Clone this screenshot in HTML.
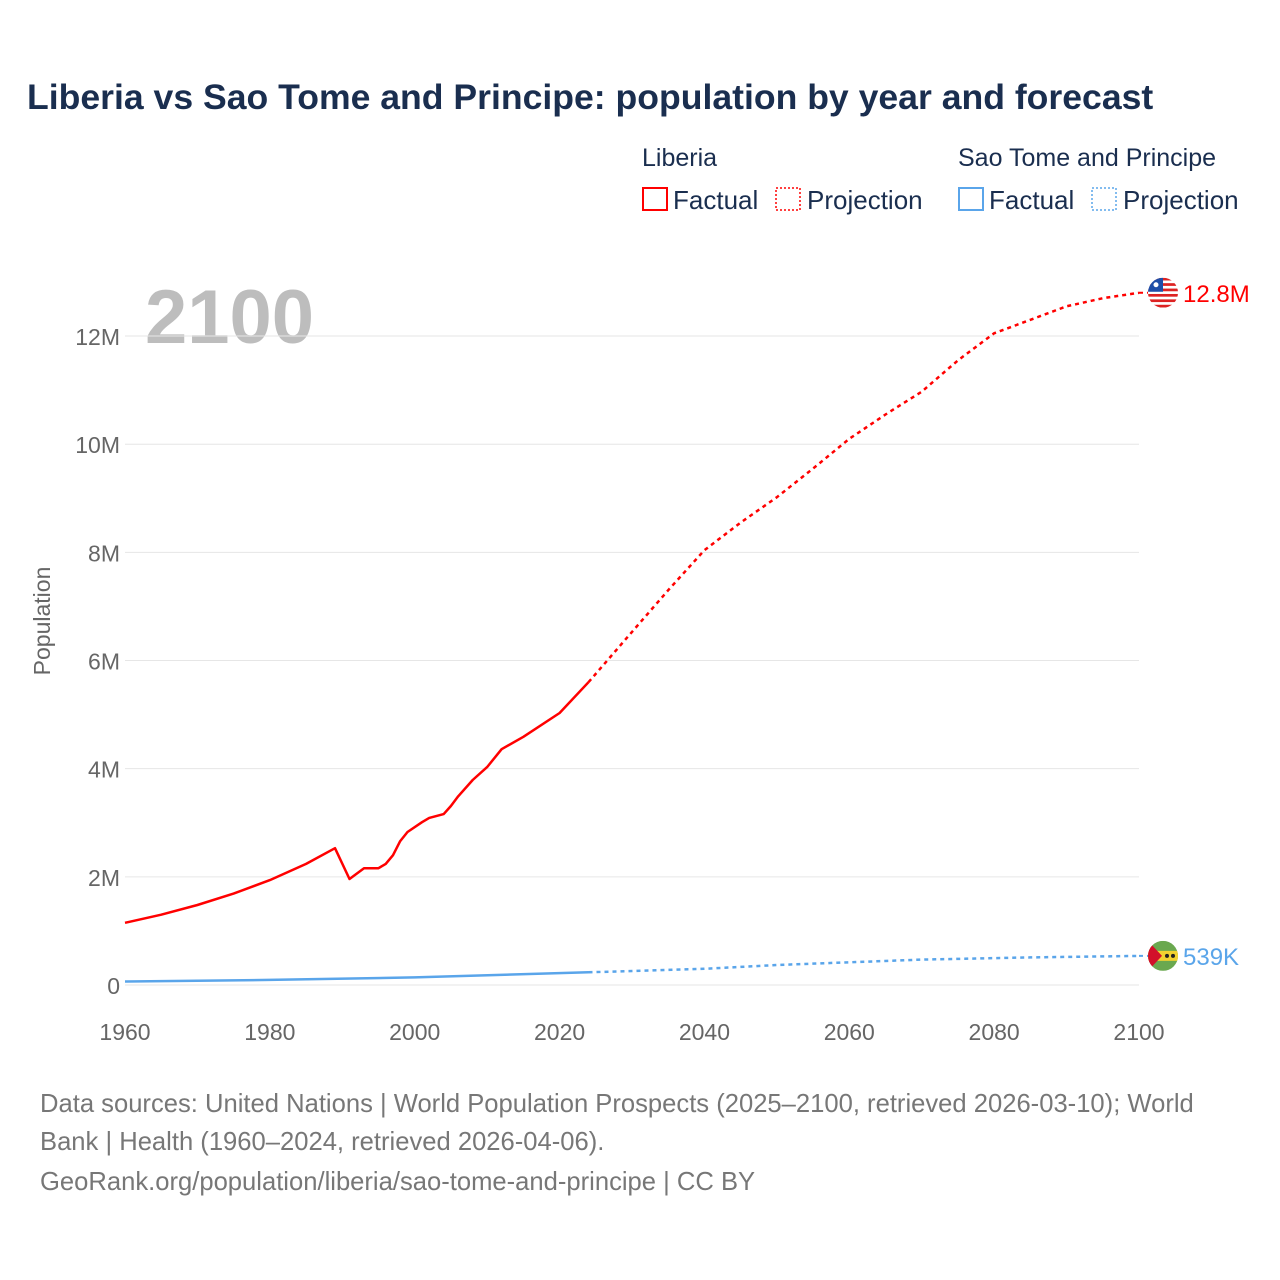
<!DOCTYPE html>
<html><head><meta charset="utf-8"><style>
body{margin:0;background:#fff;font-family:"Liberation Sans",sans-serif}
#wrap{position:relative;width:1280px;height:1280px;overflow:hidden}
</style></head><body>
<div id="wrap">
<svg id="svg" width="1280" height="1280"></svg>
</div>
<script>
const years=[1960,1965,1970,1975,1980,1985,1989,1991,1993,1995,1996,1997,1998,1999,2001,2002,2004,2005,2006,2008,2010,2012,2015,2020,2024];
const liberiaFactual=[1.15,1.30,1.48,1.69,1.94,2.24,2.53,1.96,2.16,2.16,2.24,2.40,2.66,2.83,3.01,3.09,3.16,3.31,3.49,3.79,4.03,4.36,4.59,5.03,5.60];
const projYears=[2024,2030,2035,2040,2045,2050,2055,2060,2065,2070,2075,2080,2085,2090,2095,2100];
const liberiaProj=[5.60,6.53,7.3,8.04,8.55,9.02,9.55,10.1,10.55,10.97,11.55,12.05,12.3,12.55,12.7,12.8];
const stpYears=[1960,1980,2000,2024];
const stpFactual=[0.064,0.095,0.14,0.235];
const stpProj=[0.235,0.30,0.37,0.42,0.47,0.51,0.539];
const stpProjYears=[2024,2040,2050,2060,2070,2085,2100];
const yTicks=[0,2,4,6,8,10,12];
const yTickLabels=["0","2M","4M","6M","8M","10M","12M"];
const xTicks=[1960,1980,2000,2020,2040,2060,2080,2100];

const NS="http://www.w3.org/2000/svg";
const svg=document.getElementById('svg');
const X=y=>125+(y-1960)*(1014/140);
const Y=v=>985-v*54.08;
function el(tag,attrs,parent){const e=document.createElementNS(NS,tag);for(const k in attrs)e.setAttribute(k,attrs[k]);(parent||svg).appendChild(e);return e;}
function txt(s,attrs){const t=el('text',attrs);t.textContent=s;return t;}

let t=txt("Liberia vs Sao Tome and Principe: population by year and forecast",{x:27,y:109,"font-size":35.6,"font-weight":"bold",fill:"#1a2e4f"});


const lg=[["Liberia",642,"#f00"],["Sao Tome and Principe",958,"#5aa5ea"]];
lg.forEach(([n,x,c])=>{
 let a=txt(n,{x:x,y:166,"font-size":25,fill:"#1a2e4f"});
 let r=el('rect',{x:x+1,y:188,width:24,height:22,fill:"none",stroke:c,"stroke-width":2});
 let b=txt("Factual",{x:x+31,y:209,"font-size":26,fill:"#1a2e4f"});
 let r2=el('rect',{x:x+134,y:188,width:24,height:22,fill:"none",stroke:c,"stroke-width":1.5,"stroke-dasharray":"2,2"});
 let d=txt("Projection",{x:x+165,y:209,"font-size":26,fill:"#1a2e4f"});
});

let yr=txt("2100",{x:145,y:343,"font-size":76,"font-weight":"bold",fill:"#bdbdbd"});


yTicks.forEach((v,i)=>{
 let g=el('line',{x1:125,x2:1139,y1:Y(v),y2:Y(v),stroke:"#e6e6e6","stroke-width":1});
 
 let l=txt(yTickLabels[i],{x:120,y:Y(v)+9,"font-size":23,fill:"#666","text-anchor":"end"});
 
});
xTicks.forEach(v=>{
 let l=txt(String(v),{x:X(v),y:1040,"font-size":23,fill:"#666","text-anchor":"middle"});
 
});
let yt=txt("Population",{x:50,y:621,"font-size":23,fill:"#666","text-anchor":"middle",transform:"rotate(-90 50 621)"});


function path(xs,vs,c,dash,name){
 const d=xs.map((x,i)=>(i?'L':'M')+X(x).toFixed(1)+','+Y(vs[i]).toFixed(1)).join('');
 const p=el('path',{d:d,fill:"none",stroke:c,"stroke-width":2.5,"stroke-linejoin":"round"});
 if(dash)p.setAttribute('stroke-dasharray',dash);
 
}
path(years,liberiaFactual,"#f00",null,'liberia-factual-line');
path(projYears,liberiaProj,"#f00","4,4",'liberia-projection-line');
path(stpYears,stpFactual,"#5aa5ea",null,'stp-factual-line');
path(stpProjYears,stpProj,"#5aa5ea","4,4",'stp-projection-line');

const lv=liberiaProj[liberiaProj.length-1], sv=stpProj[stpProj.length-1];
let dl=el('line',{x1:X(2100),x2:1148,y1:Y(lv),y2:Y(lv),stroke:"#f00","stroke-width":2,"stroke-dasharray":"4,4"});

let ds=el('line',{x1:X(2100),x2:1148,y1:Y(sv),y2:Y(sv),stroke:"#5aa5ea","stroke-width":2,"stroke-dasharray":"4,4"});


const fl=el('g',{});
const cy1=Y(lv);
el('clipPath',{id:'c1'},fl);el('circle',{cx:1163,cy:cy1,r:15},document.getElementById('c1'));
const g1=el('g',{"clip-path":"url(#c1)"},fl);
el('rect',{x:1148,y:cy1-15,width:30,height:30,fill:"#fff"},g1);
for(let i=0;i<6;i++)el('rect',{x:1148,y:cy1-15+i*5.4,width:30,height:2.7,fill:"#d22"},g1);
el('rect',{x:1148,y:cy1-15,width:15,height:14,fill:"#1f4ea8"},g1);
el('circle',{cx:1156,cy:cy1-8,r:2.5,fill:"#fff"},g1);
let l1=txt("12.8M",{x:1183,y:cy1+9,"font-size":24,fill:"#f00"});


const fs=el('g',{});
const cy2=Y(sv);
el('clipPath',{id:'c2'},fs);el('circle',{cx:1163,cy:cy2,r:15},document.getElementById('c2'));
const g2=el('g',{"clip-path":"url(#c2)"},fs);
el('rect',{x:1148,y:cy2-15,width:30,height:30,fill:"#6aa84f"},g2);
el('rect',{x:1148,y:cy2-5,width:30,height:10,fill:"#f2d230"},g2);
el('polygon',{points:`1148,${cy2-15} 1162,${cy2} 1148,${cy2+15}`,fill:"#d2102a"},g2);
el('circle',{cx:1167,cy:cy2,r:2,fill:"#222"},g2);el('circle',{cx:1173,cy:cy2,r:2,fill:"#222"},g2);
let l2=txt("539K",{x:1183,y:cy2+9,"font-size":24,fill:"#5aa5ea"});


const foot=["Data sources: United Nations | World Population Prospects (2025–2100, retrieved 2026-03-10); World","Bank | Health (1960–2024, retrieved 2026-04-06).","GeoRank.org/population/liberia/sao-tome-and-principe | CC BY"];
[1112,1150,1190].forEach((y,i)=>{let f=txt(foot[i],{x:40,y:y,"font-size":25.6,fill:"#777"});});
</script>
</body></html>
